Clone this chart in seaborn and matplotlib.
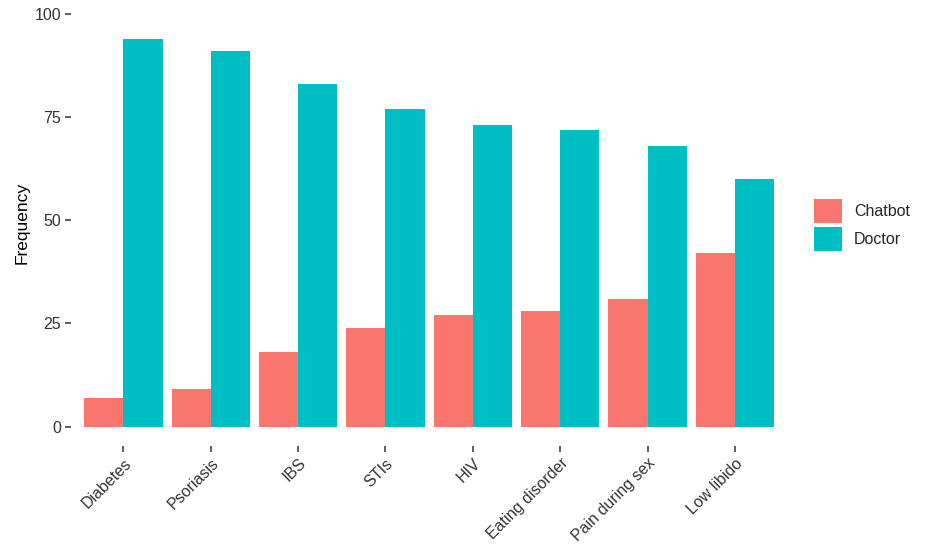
import pandas as pd
import matplotlib
matplotlib.use("Agg")
import matplotlib.pyplot as plt
import seaborn as sns
from matplotlib.patches import Patch

conditions = ["Diabetes", "Psoriasis", "IBS", "STIs", "HIV",
              "Eating disorder", "Pain during sex", "Low libido"]
chatbot = [7, 9, 18, 24, 27, 28, 31, 42]
doctor = [94, 91, 83, 77, 73, 72, 68, 60]
groups = ["Chatbot", "Doctor"]
colors = ["#F8766D", "#00BFC4"]
y_ticks = [0, 25, 50, 75, 100]

df = pd.DataFrame({
    "condition": conditions * 2,
    "group": ["Chatbot"] * len(conditions) + ["Doctor"] * len(conditions),
    "freq": chatbot + doctor,
})

sns.set_style("white")
plt.rcParams["font.family"] = ["Liberation Sans", "DejaVu Sans"]

fig = plt.figure(figsize=(9.35, 5.54), dpi=100)
ax = fig.add_axes([0.076, 0.195, 0.766, 0.805])

sns.barplot(data=df, x="condition", y="freq", hue="group", order=conditions,
            hue_order=groups, palette=colors, width=0.9, gap=0,
            linewidth=0, errorbar=None, saturation=1, ax=ax, legend=False)

ax.set_xlim(-0.6, len(conditions) - 0.4)
ax.set_ylim(-4.7, 103.4)
ax.set_yticks(y_ticks)
ax.set_xlabel("")
ax.set_ylabel("Frequency", fontsize=12.5, color="black", labelpad=4)
for s in ax.spines.values():
    s.set_visible(False)
ax.tick_params(axis="both", bottom=True, left=True, length=4, width=1.1,
               color="#333333", labelsize=11.5, labelcolor="#333333", pad=3)
plt.setp(ax.get_xticklabels(), rotation=45, ha="right", rotation_mode="anchor")

handles = [Patch(facecolor=c, edgecolor="none") for c in colors]
fig.legend(handles, groups, loc="center left", bbox_to_anchor=(0.862, 0.594),
           frameon=False, fontsize=11.5, handlelength=1.75, handleheight=2.0,
           handletextpad=0.75, labelspacing=0.2, borderpad=0)

fig.savefig("out.png", dpi=100)
